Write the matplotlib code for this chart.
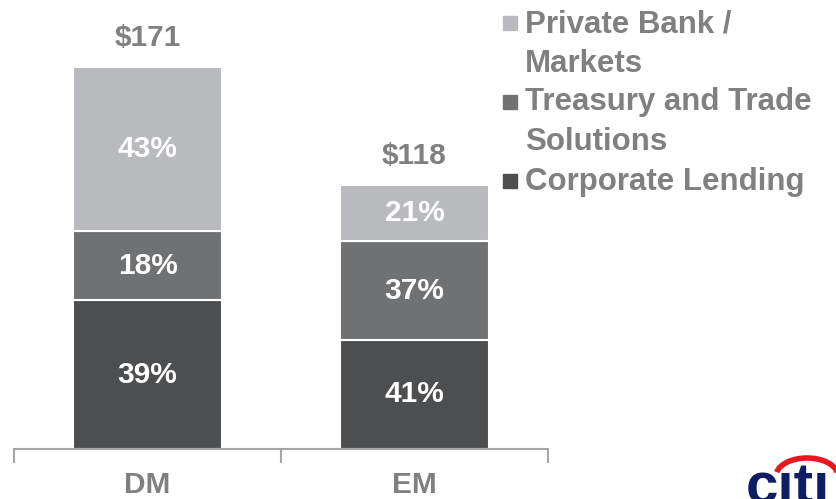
import matplotlib.pyplot as plt
from matplotlib.patches import Rectangle, Arc

# Data
categories = ["DM", "EM"]
totals = [171, 118]
corp_lending = [39, 41]     # % of total
treasury_trade = [18, 37]
private_bank = [43, 21]

segment_names = ["Private Bank /\nMarkets", "Treasury and Trade\nSolutions", "Corporate Lending"]
segment_colors = ["#B9BABE", "#707173", "#4D4E50"]

TEXT_GREY = "#808080"
plt.rcParams['font.family'] = ['Liberation Sans', 'DejaVu Sans']

fig = plt.figure(figsize=(8.36, 4.99), dpi=100)
ax = fig.add_axes([14 / 836, 50 / 499, 534 / 836, 449 / 499])

x = list(range(len(categories)))
width = 0.56

# stack bottom -> top: corporate lending, treasury & trade, private bank
stack = [corp_lending, treasury_trade, private_bank]
colors_bottom_up = segment_colors[::-1]
sums = [a + b + c for a, b, c in zip(corp_lending, treasury_trade, private_bank)]
bottoms = [0.0] * len(categories)
for pcts, color in zip(stack, colors_bottom_up):
    vals = [t * p / s for t, p, s in zip(totals, pcts, sums)]
    ax.bar(x, vals, width, bottom=bottoms, color=color, edgecolor="white", linewidth=1.5)
    for xi, b, v, p in zip(x, bottoms, vals, pcts):
        ax.text(xi, b + v / 2, f"{p}%", ha="center", va="center",
                color="white", fontsize=21.5, fontweight="bold")
    bottoms = [b + v for b, v in zip(bottoms, vals)]

# totals above bars
for xi, t in zip(x, totals):
    ax.text(xi, t + 13, f"${t}", ha="center", va="center",
            color=TEXT_GREY, fontsize=21.5, fontweight="bold")

ax.set_xlim(-0.5, len(categories) - 0.5)
ax.set_ylim(0, 201)
for s in ["top", "left", "right"]:
    ax.spines[s].set_visible(False)
ax.spines["bottom"].set_color("#A6A6A6")
ax.spines["bottom"].set_linewidth(1.5)
ax.set_yticks([])
ax.set_xticks(x)
ax.set_xticklabels(categories, fontsize=21.5, fontweight="bold", color=TEXT_GREY)
ax.tick_params(axis="x", which="major", length=0, pad=16)
ax.set_xticks([-0.5, 0.5, 1.5], minor=True)
ax.tick_params(axis="x", which="minor", length=10, width=1.5, color="#A6A6A6")

# legend drawn by hand
legend_centers = [44, 122, 182]   # vertical centre of each entry, px from top
square_centers = [23, 102, 181]
sq = 14
for name, color, yc, ys in zip(segment_names, segment_colors, legend_centers, square_centers):
    fig.patches.append(Rectangle((503 / 836, 1 - (ys + sq / 2) / 499), sq / 836, sq / 499,
                                 transform=fig.transFigure, color=color))
    fig.text(525 / 836, 1 - yc / 499, name, ha="left", va="center", color=TEXT_GREY,
             fontsize=22.5, fontweight="bold", linespacing=1.42)

# citi logo, cut off at the bottom edge
fig.text(746 / 836, -16 / 499, "c\u0131t\u0131", ha="left", va="bottom", color="#0F1E64",
         fontsize=42, fontweight="bold")
fig.patches.append(Arc((807 / 836, 1 - 476 / 499), 62 / 836, 36 / 499, theta1=12, theta2=168,
                       transform=fig.transFigure, color="#E8171F", linewidth=4))

fig.savefig("out.png", dpi=100)
